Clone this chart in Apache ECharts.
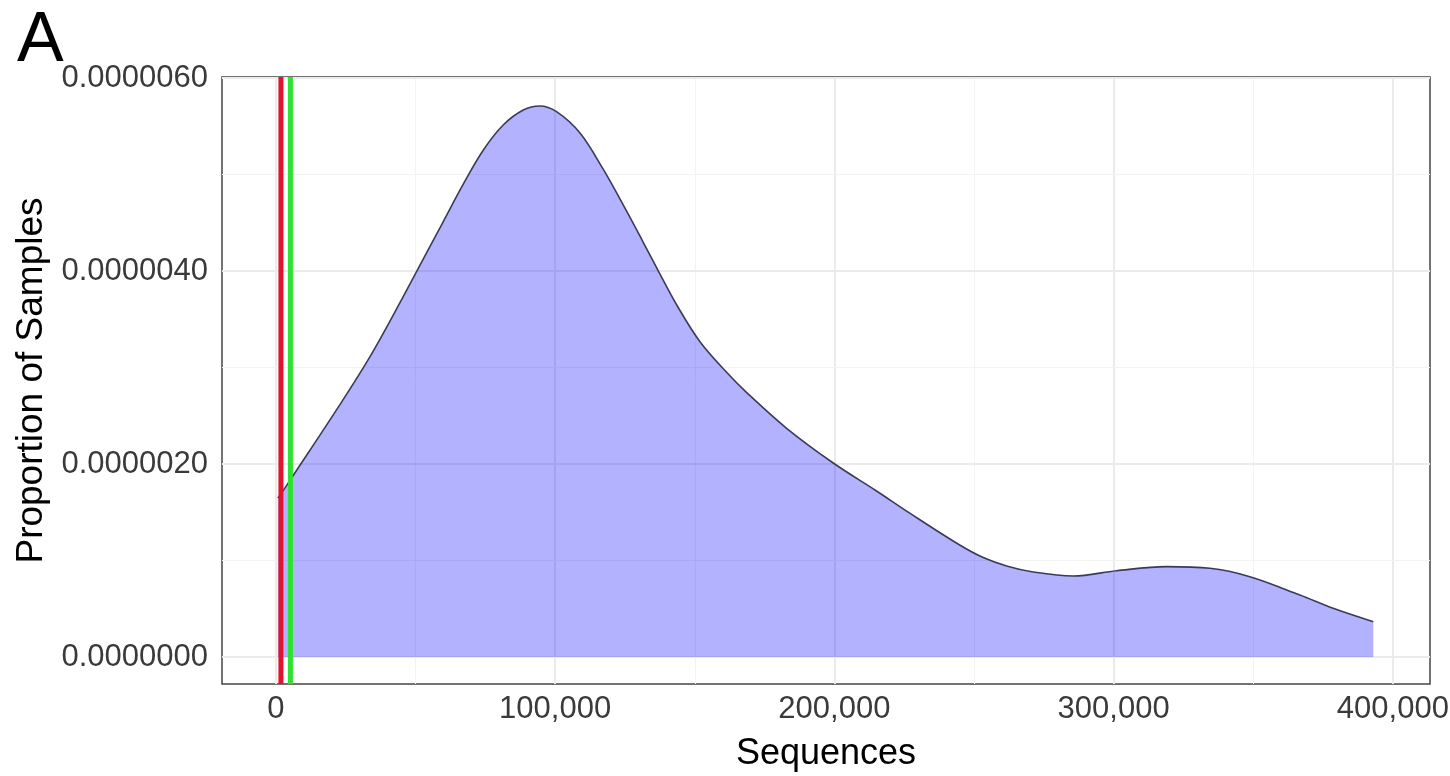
<!DOCTYPE html>
<html lang="en">
<head>
    <meta charset="UTF-8"/>
    <script type="text/javascript" src="https://cdn.jsdelivr.net/npm/echarts@6/dist/echarts.min.js"></script>
    <title>Sequences</title>
    <style>
        html, body { margin: 0; padding: 0; background: #fff; }
        #main { width: 1450px; height: 776px; }
    </style>
</head>
<body>
<div id="main"></div>
<script type="text/javascript">
    // density curve (x = sequences, y = proportion)
    var seqX = [700, 3200, 6800, 21700, 33700, 45600, 52700, 59900, 67100, 74300, 81400, 88600, 94500,
        100500, 108900, 117100, 125600, 131500, 137500, 143500, 151800, 161400, 168600, 182900, 199600,
        215100, 227000, 244900, 253300, 262000, 271200, 285500, 301100, 319000, 334500, 348800, 366700, 378600, 393000]
    var density = [1.648e-6, 1.75e-6, 1.907e-6, 2.560e-6, 3.112e-6, 3.734e-6, 4.12e-6, 4.51e-6, 4.90e-6,
        5.254e-6, 5.513e-6, 5.668e-6, 5.710e-6, 5.651e-6, 5.430e-6, 5.06e-6, 4.62e-6, 4.30e-6, 3.97e-6,
        3.65e-6, 3.27e-6, 2.95e-6, 2.74e-6, 2.37e-6, 2.01e-6, 1.72e-6, 1.49e-6, 1.16e-6, 1.03e-6,
        0.94e-6, 0.88e-6, 0.839e-6, 0.894e-6, 0.936e-6, 0.919e-6, 0.832e-6, 0.642e-6, 0.505e-6, 0.366e-6]

    // cut-off lines
    var redLine = 1800
    var greenLine = 5200

    // ticks
    var xTicks = [0, 100000, 200000, 300000, 400000]
    var xMinor = [50000, 150000, 250000, 350000]
    var yTicks = [0, 2e-6, 4e-6, 6e-6]
    var yMinor = [1e-6, 3e-6, 5e-6]

    // axis ranges (ggplot-style padding), y in units of 1e-6
    var yUnit = 1e-6
    var xMin = -19300, xMax = 413300
    var yMin = -0.28, yMax = 6.01

    var myChart = echarts.init(document.getElementById('main'))

    var gridLines = []
    xTicks.forEach(function (v) {
        gridLines.push({xAxis: v, lineStyle: {color: '#ebebeb', width: 2, type: 'solid'}})
    })
    xMinor.forEach(function (v) {
        gridLines.push({xAxis: v, lineStyle: {color: '#f3f3f3', width: 1, type: 'solid'}})
    })
    yTicks.forEach(function (v) {
        gridLines.push({yAxis: v / yUnit, lineStyle: {color: '#ebebeb', width: 2, type: 'solid'}})
    })
    yMinor.forEach(function (v) {
        gridLines.push({yAxis: v / yUnit, lineStyle: {color: '#f3f3f3', width: 1, type: 'solid'}})
    })

    function cutoff(x, color) {
        return {
            type: 'line',
            z: 10,
            silent: true,
            showSymbol: false,
            data: [[x, yMin], [x, yMax]],
            lineStyle: {color: color, width: 5}
        }
    }

    var font = '"Liberation Sans", Arial, sans-serif'

    var option = {
        animation: false,
        title: {
            text: 'A',
            left: 12,
            top: 2,
            textStyle: {fontSize: 70, fontWeight: 'normal', color: '#000', fontFamily: font}
        },
        grid: {
            left: 222, right: 20, top: 77, bottom: 92,
            show: true, backgroundColor: '#fff', borderColor: '#444', borderWidth: 1.5,
            outerBoundsMode: 'none'
        },
        xAxis: {
            type: 'value',
            min: xMin,
            max: xMax,
            name: 'Sequences',
            nameLocation: 'middle',
            nameGap: 52,
            nameTextStyle: {fontSize: 36, color: '#000', fontFamily: font},
            axisLine: {show: false},
            splitLine: {show: false},
            axisTick: {show: true, length: 6, customValues: xTicks, lineStyle: {color: '#444', width: 1.5}},
            axisLabel: {
                customValues: xTicks, margin: 10, fontSize: 31, color: '#3a3a3a', fontFamily: font,
                formatter: function (v) { return v.toLocaleString('en-US') }
            }
        },
        yAxis: {
            type: 'value',
            min: yMin,
            max: yMax,
            name: 'Proportion of Samples',
            nameLocation: 'middle',
            nameGap: 157,
            nameTextStyle: {fontSize: 37, color: '#000', fontFamily: font},
            axisLine: {show: false},
            splitLine: {show: false},
            axisTick: {
                show: true, length: 6, lineStyle: {color: '#444', width: 1.5},
                customValues: yTicks.map(function (v) { return v / yUnit })
            },
            axisLabel: {
                margin: 14, fontSize: 31, color: '#3a3a3a', fontFamily: font,
                customValues: yTicks.map(function (v) { return v / yUnit }),
                formatter: function (v) { return (v * yUnit).toFixed(7) }
            }
        },
        series: [
            {
                name: 'grid',
                type: 'line',
                data: [],
                silent: true,
                markLine: {
                    z: 1, silent: true, symbol: 'none', label: {show: false},
                    emphasis: {disabled: true},
                    data: gridLines
                }
            },
            {
                name: 'density',
                type: 'line',
                z: 2,
                smooth: 0.35,
                showSymbol: false,
                data: seqX.map(function (x, i) { return [x, density[i] / yUnit] }),
                lineStyle: {color: '#3b3b58', width: 1.6},
                areaStyle: {color: 'rgba(0,0,255,0.3)', opacity: 1}
            },
            cutoff(redLine, '#e0142c'),
            cutoff(greenLine, '#2fe22f')
        ]
    }

    myChart.setOption(option)
</script>
</body>
</html>
